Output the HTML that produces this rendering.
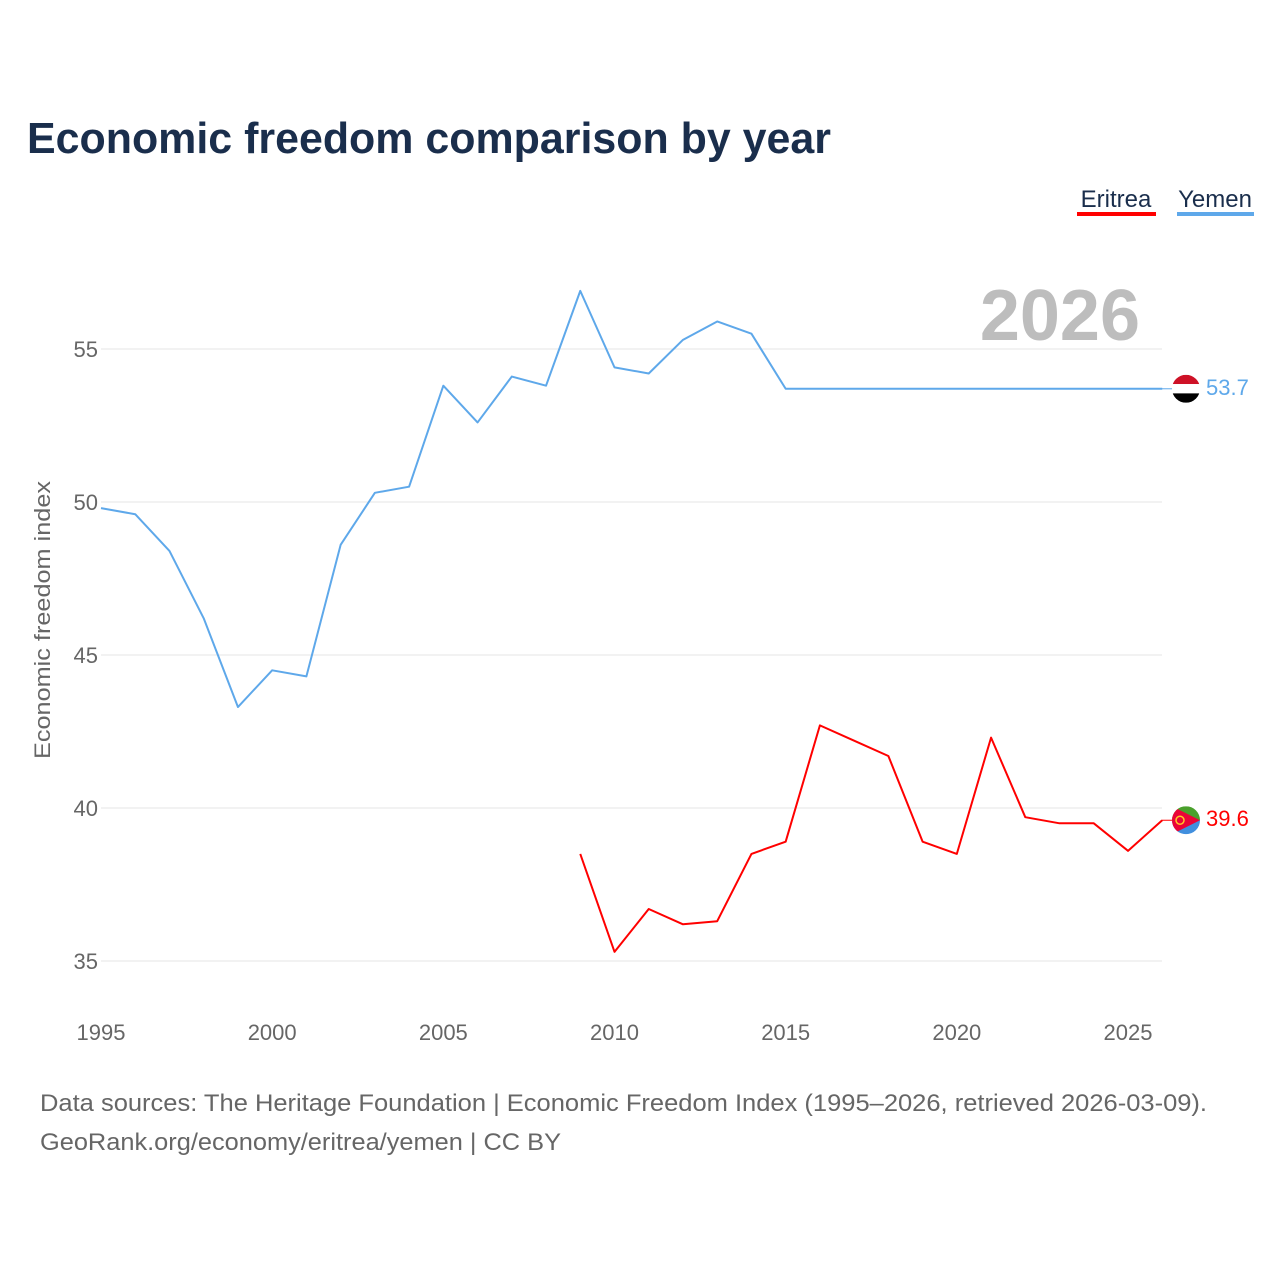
<!DOCTYPE html>
<html><head><meta charset="utf-8">
<style>
body{margin:0;background:#fff;font-family:"Liberation Sans",sans-serif;}
#wrap{position:relative;width:1280px;height:1280px;overflow:hidden;}
</style></head>
<body>
<div id="wrap">
<svg id="chart" width="1280" height="1280" font-family="Liberation Sans, sans-serif">
<text x="27" y="153" font-size="44" font-weight="bold" fill="#1a2e4c" textLength="804" lengthAdjust="spacingAndGlyphs">Economic freedom comparison by year</text>
<g>
<text x="1116" y="207" font-size="24" fill="#1a2e4c" text-anchor="middle">Eritrea</text>
<rect x="1077" y="212" width="79" height="4" fill="#ff0000"/>
<text x="1215" y="207" font-size="24" fill="#1a2e4c" text-anchor="middle">Yemen</text>
<rect x="1177" y="212" width="77" height="4" fill="#5ea8ea"/>
</g>
<text x="1140" y="340" font-size="72" font-weight="bold" fill="#bdbdbd" text-anchor="end">2026</text>
<g id="grid"></g>
<g id="yt"></g>
<g id="xt"></g>
<text transform="translate(50,620) rotate(-90)" font-size="22" fill="#666" text-anchor="middle" textLength="278" lengthAdjust="spacingAndGlyphs">Economic freedom index</text>
<g id="series"></g>
<text x="40" y="1111" font-size="24" fill="#666" textLength="1167" lengthAdjust="spacingAndGlyphs">Data sources: The Heritage Foundation | Economic Freedom Index (1995–2026, retrieved 2026-03-09).</text>
<text x="40" y="1150" font-size="24" fill="#666" textLength="521" lengthAdjust="spacingAndGlyphs">GeoRank.org/economy/eritrea/yemen | CC BY</text>
</svg>
</div>
<script>
const years=[1995,1996,1997,1998,1999,2000,2001,2002,2003,2004,2005,2006,2007,2008,2009,2010,2011,2012,2013,2014,2015,2016,2017,2018,2019,2020,2021,2022,2023,2024,2025,2026];
const yemen=[49.8,49.6,48.4,46.2,43.3,44.5,44.3,48.6,50.3,50.5,53.8,52.6,54.1,53.8,56.9,54.4,54.2,55.3,55.9,55.5,53.7,53.7,53.7,53.7,53.7,53.7,53.7,53.7,53.7,53.7,53.7,53.7];
const eritrea=[null,null,null,null,null,null,null,null,null,null,null,null,null,null,38.5,35.3,36.7,36.2,36.3,38.5,38.9,42.7,42.2,41.7,38.9,38.5,42.3,39.7,39.5,39.5,38.6,39.6];
const yTicks=[35,40,45,50,55];
const xTicks=[1995,2000,2005,2010,2015,2020,2025];
const NS="http://www.w3.org/2000/svg";
const x=v=>101+(v-1995)*(1128-101)/30;
const y=v=>961-(v-35)*(961-349)/20;
function mk(tag,attrs,parent){const e=document.createElementNS(NS,tag);for(const k in attrs)e.setAttribute(k,attrs[k]);parent.appendChild(e);return e;}
const grid=document.getElementById('grid'),yt=document.getElementById('yt'),xt=document.getElementById('xt'),ser=document.getElementById('series');
yTicks.forEach(t=>{
 const l=mk('line',{x1:101,x2:1162,y1:y(t),y2:y(t),stroke:'#e6e6e6','stroke-width':1},grid);
 
 
 const tx=mk('text',{x:98,y:y(t)+8,'font-size':22,fill:'#666','text-anchor':'end'},yt);
 tx.textContent=t;
 
 
});
xTicks.forEach(t=>{
 const tx=mk('text',{x:x(t),y:1040,'font-size':22,fill:'#666','text-anchor':'middle'},xt);
 tx.textContent=t;
 
 
});
function draw(vals,color,name){
 let d='';vals.forEach((v,i)=>{if(v==null)return;d+=(d?'L':'M')+x(years[i])+','+y(v);});
 const p=mk('path',{d:d,fill:'none',stroke:color,'stroke-width':2,'stroke-linejoin':'round'},ser);
 
 
 const last=vals[vals.length-1];
 const cy=y(last);
 mk('line',{x1:1162,x2:1174,y1:cy,y2:cy,stroke:color,'stroke-width':1},ser);
 const g=mk('g',{},ser);
 
 
 if(name==='yemen'){
  mk('clipPath',{id:'cy'},g);
  const c=document.getElementById('cy');mk('circle',{cx:1186,cy:cy,r:14},c);
  mk('rect',{x:1172,y:cy-14,width:28,height:9.3,fill:'#ce1126','clip-path':'url(#cy)'},g);
  mk('rect',{x:1172,y:cy-4.7,width:28,height:9.3,fill:'#fff','clip-path':'url(#cy)'},g);
  mk('rect',{x:1172,y:cy+4.6,width:28,height:9.4,fill:'#000','clip-path':'url(#cy)'},g);
 }else{
  mk('clipPath',{id:'ce'},g);
  const c=document.getElementById('ce');mk('circle',{cx:1186,cy:cy,r:14},c);
  mk('rect',{x:1172,y:cy-14,width:28,height:14,fill:'#4aa02c','clip-path':'url(#ce)'},g);
  mk('rect',{x:1172,y:cy,width:28,height:14,fill:'#418fde','clip-path':'url(#ce)'},g);
  mk('polygon',{points:`1172,${cy-14} 1200,${cy} 1172,${cy+14}`,fill:'#ea0437','clip-path':'url(#ce)'},g);
  mk('circle',{cx:1180,cy:cy,r:4,fill:'none',stroke:'#ffc726','stroke-width':1.5},g);
 }
 const t=mk('text',{x:1206,y:cy+6,'font-size':22,fill:color},ser);
 t.textContent=last.toFixed(1);
 
 
}
draw(yemen,'#5ea8ea','yemen');
draw(eritrea,'#ff0000','eritrea');
</script>
</body></html>
